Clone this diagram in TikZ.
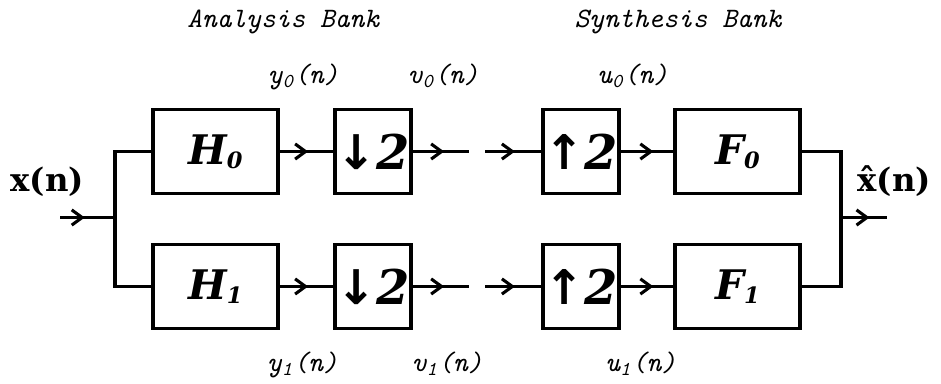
\documentclass[tikz,border=0pt]{standalone}
\usepackage{fontspec}
\newfontfamily\slabfont{DejaVu Serif}
\newfontfamily\arrowfont{DejaVu Sans}
\newcommand{\tinysub}[1]{\raisebox{-0.2ex}{\fontsize{8}{8}\selectfont #1}}
\usetikzlibrary{arrows.meta,decorations.markings}

\begin{document}
\begin{tikzpicture}[x=1.0cm, line width=1.1pt]
    \useasboundingbox (0,0) rectangle (11.7625,4.8);
    \tikzset{block/.style={draw, minimum height=1.05cm, inner sep=0pt,
                           font=\slabfont\bfseries\itshape\fontsize{14.5}{16}\selectfont},
             rate/.style={block, minimum width=0.95cm,
                          font=\slabfont\bfseries\itshape\fontsize{17}{19}\selectfont},
             sig/.style={anchor=base, inner sep=0pt,
                         font=\ttfamily\itshape\fontsize{10}{12}\selectfont},
             io/.style={anchor=base, inner sep=0pt,
                        font=\slabfont\bfseries\fontsize{11.5}{13}\selectfont},
             flow/.style={decoration={markings, mark=at position #1 with
                            {\arrow{Straight Barb[length=1.3mm, width=1.9mm]}}},
                          postaction={decorate}},
             flow/.default=0.55}
    % two branches of blocks
    \foreach \row/\y in {0/2.906, 1/1.219} {
      \node[block, minimum width=1.5625cm] (H\row) at (2.694,\y) {H\tinysub{\row}};
      \node[rate] (dn\row) at (4.6625,\y) {{\arrowfont\upshape ↓}2};
      \node[rate] (up\row) at (7.2625,\y) {{\arrowfont\upshape ↑}2};
      \node[block, minimum width=1.5625cm] (F\row) at (9.219,\y) {F\tinysub{\row}};
      \coordinate (cut\row a) at (5.8625,\y);
      \coordinate (cut\row b) at (6.0625,\y);
      \draw[flow=0.53] (H\row) -- (dn\row);
      \draw[flow=0.56] (dn\row) -- (cut\row a);
      \draw[flow=0.53] (cut\row b) -- (up\row);
      \draw[flow=0.62] (up\row) -- (F\row);
    }
    % split and join
    \coordinate (in) at (0.75,2.081);
    \coordinate (split) at (1.4375,2.081);
    \coordinate (join) at (10.5125,2.081);
    \coordinate (out) at (11.0875,2.081);
    \draw[flow=0.45] (in) -- (split);
    \draw (H0.west) -| (split) |- (H1.west);
    \draw (F0.east) -| (join) |- (F1.east);
    \draw[flow=0.62] (join) -- (out);
    % signal names
    \node[io] (xin) at (0.59,2.4) {x(n)};
    \node[io] (xout) at (11.18,2.4) {\^{x}(n)};
    \node[sig] (ana) at (3.54,4.45) {Analysis Bank};
    \node[sig] (syn) at (8.475,4.45) {Synthesis Bank};
    \foreach \nm/\s/\x/\y in {y0/y/3.79/3.76, v0/v/5.54/3.76, u0/u/7.91/3.76,
                              y1/y/3.78/0.16, v1/v/5.59/0.16, u1/u/8.01/0.16} {
      \node[sig] (\nm) at (\x,\y) {\s\textsubscript{\ifdim\y pt>1pt 0\else 1\fi}(n)};
    }
  \end{tikzpicture}
\end{document}
